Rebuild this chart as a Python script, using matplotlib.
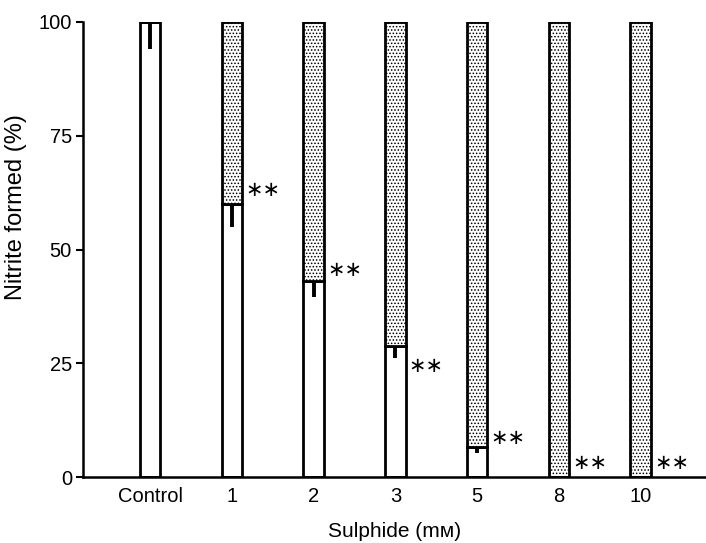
import matplotlib
matplotlib.use('Agg')
import matplotlib.pyplot as plt
import numpy as np

# values
groups = ['Control', '1', '2', '3', '5', '8', '10']
nitrite = [100, 60, 43, 28.8, 6.7, 0, 0]
err_down = [6, 5, 3.4, 2.6, 1.5, 0, 0]
signif = ['', '∗∗', '∗∗', '∗∗', '∗∗', '∗∗', '∗∗']
star_y = [0, 63, 45.5, 24.5, 8.5, 3, 3]

plt.rcParams['font.family'] = ['Liberation Sans', 'DejaVu Sans']
plt.rcParams['hatch.color'] = '#8a8a8a'
plt.rcParams['hatch.linewidth'] = 0.7

fig = plt.figure(figsize=(7.06, 5.43), dpi=100)
ax = fig.add_axes([0.1176, 0.1215, 0.8824, 0.838])

x = np.arange(len(groups))
width = 0.25
inhib = [100 - v for v in nitrite]
inhib[0] = 0

# white part = nitrite formed, stippled part = remainder up to 100
ax.bar(x, nitrite, width, color='white', edgecolor='black', linewidth=2, zorder=2)
ax.bar(x, inhib, width, bottom=nitrite, color='white', edgecolor='black',
       linewidth=2, hatch='.....', zorder=2)

yerr = np.array([err_down, [0] * len(err_down)])
ax.errorbar(x, nitrite, yerr=yerr, fmt='none', ecolor='black', elinewidth=2.8,
            capsize=0, zorder=3)

for xi, s, sy in zip(x, signif, star_y):
    if s:
        ax.text(xi + width / 2 + 0.04, sy, s, fontsize=15, va='center', ha='left',
                family='DejaVu Sans')

ax.set_xlim(-0.82, 6.8)
ax.set_ylim(0, 100)
ax.set_xticks(x)
ax.set_xticklabels(groups, fontsize=14.5)
ax.set_yticks([0, 25, 50, 75, 100])
ax.tick_params(axis='x', direction='in', length=4, width=1.2, pad=7)
ax.tick_params(axis='y', direction='out', length=5, width=1.5, labelsize=14.5, pad=3)
ax.spines['top'].set_visible(False)
ax.spines['right'].set_visible(False)
ax.spines['left'].set_linewidth(1.8)
ax.spines['bottom'].set_linewidth(1.8)

ax.set_ylabel('Nitrite formed (%)', fontsize=17)
ax.yaxis.set_label_coords(-0.09, 0.593)
ax.set_xlabel('Sulphide (mᴍ)', fontsize=15, labelpad=12)

plt.savefig('out.png', dpi=100)
